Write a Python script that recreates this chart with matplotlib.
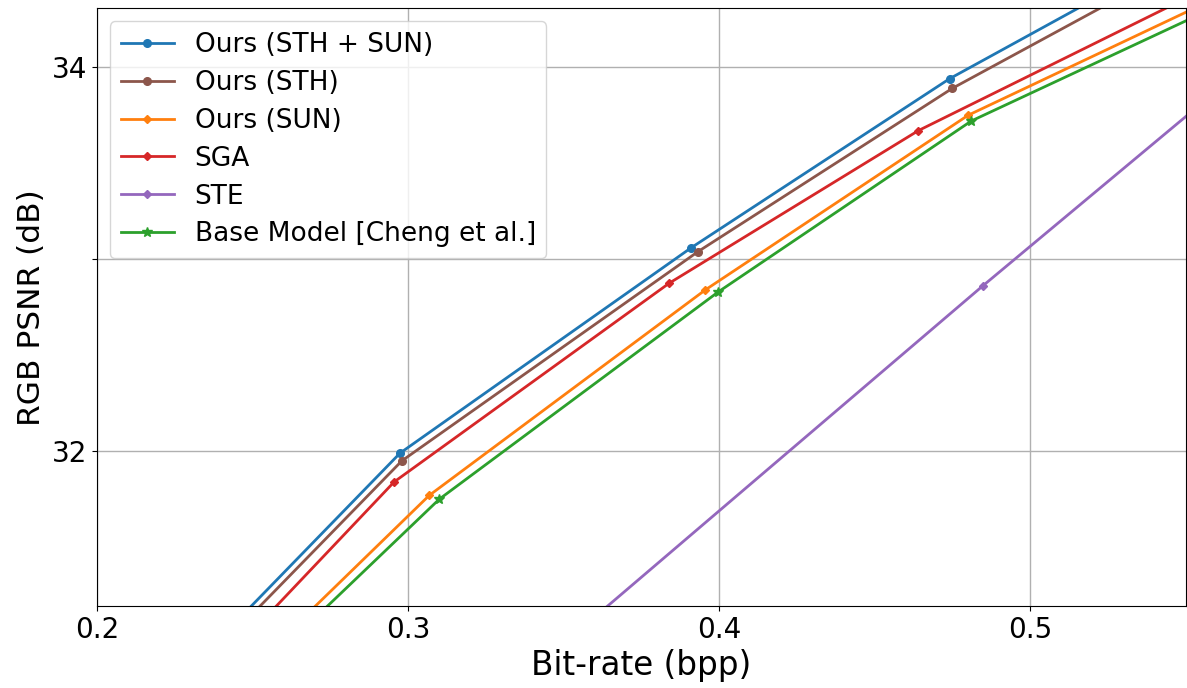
import matplotlib
matplotlib.use("Agg")
import matplotlib.pyplot as plt

# rate-distortion points (bpp, dB); first/last points lie outside the visible window
sth_sun_bpp = [0.220, 0.2974, 0.391, 0.474, 0.600]
sth_sun_psnr = [30.70, 31.99, 33.06, 33.94, 35.06]

sth_bpp = [0.220, 0.298, 0.3932, 0.4749, 0.600]
sth_psnr = [30.655, 31.95, 33.04, 33.89, 34.99]

sun_bpp = [0.230, 0.3068, 0.3955, 0.480, 0.600]
sun_psnr = [30.56, 31.77, 32.84, 33.75, 34.67]

sga_bpp = [0.220, 0.2955, 0.3839, 0.464, 0.600]
sga_psnr = [30.55, 31.84, 32.875, 33.67, 34.76]

ste_bpp = [0.340, 0.4846, 0.600]
ste_psnr = [30.86, 32.86, 34.42]

base_bpp = [0.230, 0.310, 0.3997, 0.481, 0.600]
base_psnr = [30.51, 31.75, 32.83, 33.72, 34.62]

x_ticks = [0.2, 0.3, 0.4, 0.5]
y_ticks = [32, 33, 34]
y_tick_labels = ["32", "", "34"]

fig = plt.figure(figsize=(11.87, 6.88), dpi=100)
ax = fig.add_axes([0.0817, 0.119, 0.9175, 0.869])

ax.plot(sth_sun_bpp, sth_sun_psnr, color="tab:blue", marker="o", markersize=5.5, lw=2, label="Ours (STH + SUN)")
ax.plot(sth_bpp, sth_psnr, color="tab:brown", marker="o", markersize=5.5, lw=2, label="Ours (STH)")
ax.plot(sun_bpp, sun_psnr, color="tab:orange", marker="D", markersize=4.5, lw=2, label="Ours (SUN)")
ax.plot(sga_bpp, sga_psnr, color="tab:red", marker="D", markersize=4.5, lw=2, label="SGA")
ax.plot(ste_bpp, ste_psnr, color="tab:purple", marker="D", markersize=4.5, lw=2, label="STE")
ax.plot(base_bpp, base_psnr, color="tab:green", marker="*", markersize=7.5, lw=2, label="Base Model [Cheng et al.]")

ax.set_xlim(0.2, 0.55)
ax.set_ylim(31.193, 34.307)
ax.set_xticks(x_ticks)
ax.set_yticks(y_ticks)
ax.set_yticklabels(y_tick_labels)
ax.tick_params(labelsize=20)
ax.grid(True, color="#b0b0b0", lw=1)

ax.set_xlabel("Bit-rate (bpp)", fontsize=23.5)
ax.set_ylabel("RGB PSNR (dB)", fontsize=22.5)
ax.legend(loc="upper left", fontsize=19, labelspacing=0.45)

fig.savefig("out.png", dpi=100)
